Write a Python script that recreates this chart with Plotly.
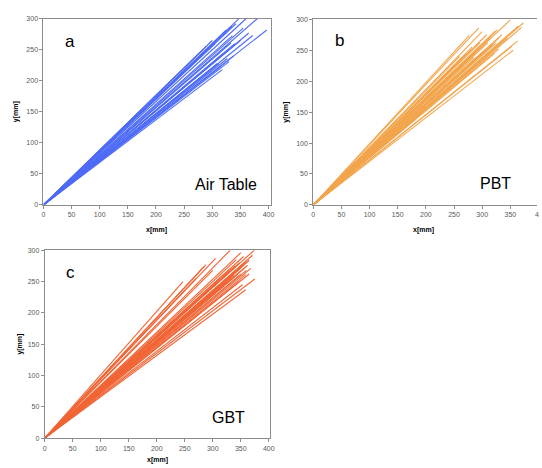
import plotly.graph_objects as go

# ---- data: trajectory end points (x[mm], y[mm]); every trajectory starts at the origin ----
a_x_end = [347, 360, 380, 397, 365, 372, 336, 333, 289, 283, 330, 318, 315, 309, 342, 325, 300, 355, 340, 320, 350, 327, 312, 305, 290, 338, 335, 315]
a_y_end = [300, 300, 300, 282, 277, 273, 273, 261, 255, 250, 231, 218, 223, 228, 292, 282, 265, 285, 260, 244, 265, 236, 228, 260, 248, 240, 288, 272]

b_x_end = [294, 277, 350, 373, 370, 364, 363, 355, 352, 323, 317, 320, 329, 311, 300, 282, 271, 330, 325, 310, 290, 305, 315, 268, 260, 285, 300, 327, 335, 340, 322, 296,
           280, 295, 312, 318, 305, 265, 275, 288, 332, 345, 255, 298, 308]
b_y_end = [286, 274, 299, 294, 287, 289, 265, 250, 256, 281, 271, 260, 252, 255, 247, 255, 244, 270, 262, 262, 250, 240, 245, 230, 240, 238, 280, 283, 275, 268, 245, 262,
           250, 255, 268, 258, 250, 225, 235, 245, 262, 270, 228, 235, 275]

c_x_end = [247, 284, 288, 331, 350, 374, 371, 365, 356, 356, 368, 375, 359, 353, 359, 347, 305, 340, 345, 362, 338, 350, 330, 320, 342, 355, 360, 310, 348, 365, 335,
           340, 350, 355, 345, 330, 360, 338, 325, 300, 270]
c_y_end = [250, 274, 277, 300, 296, 300, 292, 284, 279, 271, 271, 254, 237, 245, 261, 250, 287, 275, 268, 276, 260, 262, 270, 262, 285, 290, 268, 240, 280, 262, 255,
           265, 272, 276, 262, 255, 282, 272, 250, 268, 255]

x_ticks = [0, 50, 100, 150, 200, 250, 300, 350, 400]
y_ticks = [0, 50, 100, 150, 200, 250, 300]

panel_letters = ["a", "b", "c"]
panel_names = ["Air Table", "PBT", "GBT"]
colors = ["#2f52f5", "#f0962e", "#ef4a12"]

W, H = 542, 468


def px(x):
    return x / W


def py(y):
    return 1 - y / H


def segs(xe, ye):
    xs, ys = [], []
    for x1, y1 in zip(xe, ye):
        xs += [0, x1, None]
        ys += [0, y1, None]
    return xs, ys


fig = go.Figure()
data = [(a_x_end, a_y_end), (b_x_end, b_y_end), (c_x_end, c_y_end)]
axes = [("x", "y"), ("x2", "y2"), ("x3", "y3")]
for (xe, ye), (xa, ya), col in zip(data, axes, colors):
    xs, ys = segs(xe, ye)
    fig.add_trace(go.Scatter(x=xs, y=ys, mode="lines", xaxis=xa, yaxis=ya,
                             line=dict(color=col, width=1.1), opacity=0.85,
                             showlegend=False, hoverinfo="skip"))

tickfont = dict(family="Liberation Sans, Arial, sans-serif", size=7, color="#595959")
frame = "#8c8c8c"


def xax(domain, rng, anchor, mirror=True, ticks=x_ticks):
    return dict(domain=domain, range=rng, anchor=anchor, tickvals=ticks,
                ticktext=[str(t) for t in ticks], showgrid=False, zeroline=False,
                showline=True, linecolor=frame, linewidth=1, mirror=mirror,
                ticks="outside", ticklen=3, tickcolor=frame, tickfont=tickfont)


def yax(domain, rng, anchor, mirror=True):
    return dict(domain=domain, range=rng, anchor=anchor, tickvals=y_ticks,
                ticktext=[str(t) for t in y_ticks], showgrid=False, zeroline=False,
                showline=True, linecolor=frame, linewidth=1, mirror=mirror,
                ticks="outside", ticklen=3, tickcolor=frame, tickfont=tickfont)


fig.update_layout(
    width=W, height=H, margin=dict(l=0, r=0, t=0, b=0),
    paper_bgcolor="white", plot_bgcolor="white",
    xaxis=xax([px(42), px(273)], [0, 405.3], "y"),
    yaxis=yax([py(204), py(15)], [0, 300], "x"),
    xaxis2=xax([px(315.3), 1.0], [0, 397.3], "y2", mirror=True, ticks=x_ticks[:-1]),
    yaxis2=yax([py(204), py(15.5)], [0, 300], "x2", mirror=False),
    xaxis3=xax([px(43.3), px(271.7)], [0, 402.5], "y3"),
    yaxis3=yax([py(440.7), py(250)], [0, 300], "x3"),
)

ann = []
label_font = dict(family="Liberation Sans, Arial, sans-serif", size=17, color="black")
name_font = dict(family="Liberation Sans, Arial, sans-serif", size=16, color="black")
title_font = dict(family="Liberation Sans, Arial, sans-serif", size=7, color="black")

letter_pos = [(69, 38), (342, 37), (69, 273)]
name_pos = [(227, 183), (500, 182), (229, 420)]
xt_pos = [(157, 229), (427, 229), (158, 463)]
yt_pos = [(15, 109), (288, 110), (18, 345)]

for i in range(3):
    ann.append(dict(text=panel_letters[i], x=px(letter_pos[i][0]), y=py(letter_pos[i][1]),
                    xref="paper", yref="paper", showarrow=False, font=label_font,
                    xanchor="center", yanchor="middle"))
    ann.append(dict(text=panel_names[i], x=px(name_pos[i][0]), y=py(name_pos[i][1]),
                    xref="paper", yref="paper", showarrow=False, font=name_font,
                    xanchor="center", yanchor="middle"))
    ann.append(dict(text="<b>x[mm]</b>", x=px(xt_pos[i][0]), y=py(xt_pos[i][1]),
                    xref="paper", yref="paper", showarrow=False, font=title_font,
                    xanchor="center", yanchor="middle"))
    ann.append(dict(text="<b>y[mm]</b>", x=px(yt_pos[i][0]), y=py(yt_pos[i][1]),
                    xref="paper", yref="paper", showarrow=False, font=title_font,
                    textangle=-90, xanchor="center", yanchor="middle"))

# visible first digit of panel b's 400 tick label, which sits at the page edge
ann.append(dict(text="4", x=px(537.5), y=py(214), xref="paper", yref="paper",
                showarrow=False, font=tickfont, xanchor="left", yanchor="middle"))

fig.update_layout(annotations=ann)
fig.write_html("out.html", config={"displayModeBar": False},
               post_script="document.body.style.margin='0';document.body.style.padding='0';")
